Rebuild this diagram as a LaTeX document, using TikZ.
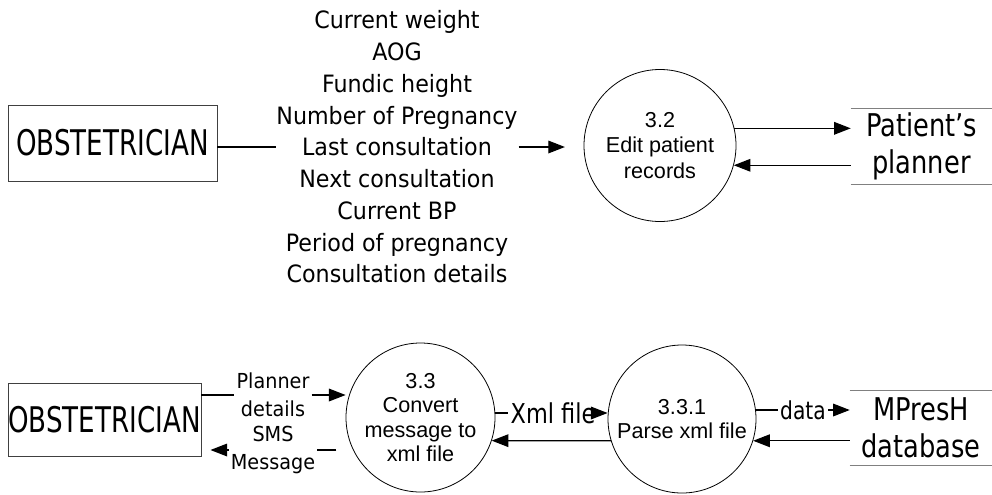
\documentclass[tikz,border=0pt]{standalone}
\usepackage{fontspec}
\setmainfont{Liberation Sans}
\newfontfamily\boxfont[FakeStretch=0.74]{DejaVu Sans}
\newfontfamily\storefont[FakeStretch=0.82]{DejaVu Sans}
\newfontfamily\flowfont[FakeStretch=0.93]{DejaVu Sans}
\usetikzlibrary{calc,positioning,arrows.meta}
\tikzset{
  entity/.style={draw=black!75, line width=0.7pt, inner sep=0pt, font=\boxfont\fontsize{26.5}{30}\selectfont},
  process/.style={draw, circle, line width=0.6pt, inner sep=0pt, align=center, font=\fontsize{16.2}{18.3}\selectfont},
  datastore/.style={inner sep=0pt, align=center, font=\storefont\fontsize{23.5}{28}\selectfont},
  flowtext/.style={inner sep=1.5pt, align=center, font=\flowfont\fontsize{15.5}{21}\selectfont},
  flowline/.style={line width=0.9pt, -{Triangle[length=12.5pt,width=9.5pt]}},
  storeline/.style={draw=black!50, line width=1pt}
}

\begin{document}
\begin{tikzpicture}[x=0.75pt,y=-0.75pt]
        \useasboundingbox (0,0) rectangle (992,494);
        \node[entity, minimum width=156.75pt, minimum height=57pt] (obs1) at (112.5,143) {OBSTETRICIAN};
        \node[flowtext, inner sep=0.5pt, font=\flowfont\fontsize{17.9}{23.8}\selectfont] (details) at (397,147)
            {Current weight\\AOG\\Fundic height\\Number of Pregnancy\\Last consultation\\Next consultation\\Current BP\\Period of pregnancy\\Consultation details};
        \node[process, minimum size=114pt, font=\fontsize{16.2}{18.8}\selectfont] (p32) at (660,145.5) {3.2\\Edit patient\\records};
        \node[datastore, minimum width=105.75pt, minimum height=56.25pt] (planner) at (921.5,146.5) {Patient’s\\planner};
        \coordinate (in32) at ([xshift=-14pt]p32.west);
        \draw[line width=0.9pt] (details.west -| obs1.east) -- (details.west);
        \draw[flowline] (details.east) -- (details.east -| in32);
        \draw[flowline] (p32.13) -- (p32.13 -| planner.west);
        \draw[flowline] (p32.-15 -| planner.west) -- (p32.-15);
        \draw[storeline] (planner.north west) -- (planner.north east) (planner.south west) -- (planner.south east);

        \node[entity, minimum width=144.75pt, minimum height=54.75pt] (obs2) at (104.5,419.5) {OBSTETRICIAN};
        \node[process, minimum size=111.75pt] (p33) at (420.5,417.5) {3.3\\Convert\\message to\\xml file};
        \node[process, minimum size=111pt] (p331) at (682,419) {3.3.1\\Parse xml file};
        \node[datastore, minimum width=106.5pt, minimum height=55.5pt] (mpresh) at (921,428) {MPresH\\database};
        \node[flowtext] (pdet) at (273,395) {Planner\\details};
        \node[flowtext] (sms) at (273,450) {SMS\\Message};
        \node[flowtext, font=\storefont\fontsize{20.5}{24}\selectfont] (xml) at (553,413) {Xml file};
        \node[flowtext, font=\storefont\fontsize{18.5}{22}\selectfont] (dat) at (803,410) {data};
        \coordinate (out33) at ([xshift=-7pt]p33.west);
        \coordinate (in2) at ([xshift=6.75pt]obs2.east);
        \draw[line width=0.9pt] (pdet.west -| obs2.east) -- (pdet.west);
        \draw[flowline] (pdet.east) -- (pdet.east -| p33.west);
        \draw[line width=0.9pt] (sms.east -| out33) -- (sms.east);
        \draw[flowline] (sms.west) -- (sms.west -| in2);
        \draw[line width=0.9pt] (xml.west -| p33.east) -- (xml.west);
        \draw[flowline] (xml.east) -- (xml.east -| p331.west);
        \draw[flowline] (p331.197) -- (p33.-18);
        \draw[line width=0.9pt] (dat.west -| p331.east) -- (dat.west);
        \draw[flowline] (dat.east) -- (dat.east -| mpresh.west);
        \draw[flowline] (p331.-17 -| mpresh.west) -- (p331.-17);
        \draw[storeline] (mpresh.north west) -- (mpresh.north east) (mpresh.south west) -- (mpresh.south east);
    \end{tikzpicture}
\end{document}
